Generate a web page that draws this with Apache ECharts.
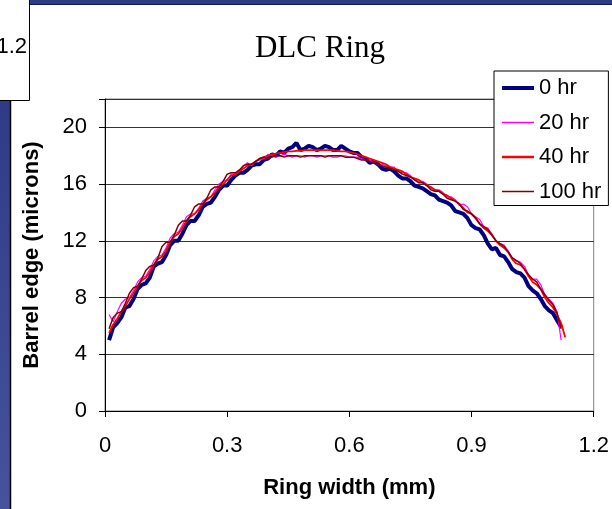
<!DOCTYPE html>
<html><head><meta charset="utf-8">
<script src="https://cdn.jsdelivr.net/npm/echarts@6/dist/echarts.min.js"></script>
<style>html,body{margin:0;padding:0;background:#fff}#c{width:612px;height:509px}</style>
</head><body><div id="c"></div>
<script>
const titleText = 'DLC Ring';
const seriesNames = ['0 hr', '20 hr', '40 hr', '100 hr'];
const xTicks = [0, 0.3, 0.6, 0.9, 1.2];
const yTicks = [0, 4, 8, 12, 16, 20];
const ringWidth = [0.01,0.02,0.03,0.04,0.05,0.06,0.07,0.08,0.09,0.10,0.11,0.12,0.13,0.14,0.15,0.16,0.17,0.18,0.19,0.20,0.21,0.22,0.23,0.24,0.25,0.26,0.27,0.28,0.29,0.30,0.31,0.32,0.33,0.34,0.35,0.36,0.37,0.38,0.39,0.40,0.41,0.42,0.43,0.44,0.45,0.46,0.47,0.48,0.49,0.50,0.51,0.52,0.53,0.54,0.55,0.56,0.57,0.58,0.59,0.60,0.61,0.62,0.63,0.64,0.65,0.66,0.67,0.68,0.69,0.70,0.71,0.72,0.73,0.74,0.75,0.76,0.77,0.78,0.79,0.80,0.81,0.82,0.83,0.84,0.85,0.86,0.87,0.88,0.89,0.90,0.91,0.92,0.93,0.94,0.95,0.96,0.97,0.98,0.99,1.00,1.01,1.02,1.03,1.04,1.05,1.06,1.07,1.08,1.09,1.10,1.11,1.12,1.13];
const hr0 = [5.0,5.9,6.2,6.6,7.3,7.4,7.9,8.6,8.9,9.0,9.4,10.2,10.4,10.5,11.0,11.7,12.0,12.0,12.5,13.1,13.4,13.4,13.8,14.4,14.6,14.7,15.1,15.6,15.9,15.9,16.3,16.6,16.8,16.8,17.0,17.3,17.4,17.4,17.7,17.8,18.1,18.0,18.3,18.2,18.5,18.6,18.9,18.4,18.5,18.7,18.6,18.4,18.5,18.7,18.6,18.4,18.4,18.7,18.5,18.3,18.2,18.2,17.9,17.8,17.5,17.6,17.4,17.1,17.0,17.1,16.9,16.6,16.4,16.4,16.2,15.9,15.8,15.7,15.5,15.3,15.2,14.9,14.8,14.7,14.5,14.1,14.0,13.9,13.6,13.1,12.9,12.8,12.4,11.8,11.4,11.5,11.0,10.9,10.5,10.0,9.8,9.7,9.4,8.8,8.5,8.3,7.9,7.4,7.1,6.9,6.4,5.9,null];
const hr20 = [6.8,6.3,7.0,7.6,7.9,8.0,8.5,9.1,9.4,9.5,10.0,10.6,10.9,11.0,11.5,12.2,12.5,12.6,13.1,13.7,13.9,13.9,14.3,14.8,15.0,15.1,15.6,16.0,16.2,16.3,16.7,16.7,16.9,17.3,17.5,17.3,17.6,17.7,17.8,18.1,18.0,17.9,18.0,18.1,18.0,17.9,18.0,18.0,17.9,18.0,18.0,17.9,18.0,18.0,18.0,17.9,17.9,18.0,18.0,17.9,17.9,17.9,17.8,17.7,17.7,17.5,17.4,17.4,17.3,17.2,17.2,16.9,16.8,16.8,16.6,16.3,16.2,16.2,16.0,15.7,15.6,15.6,15.4,15.1,15.1,14.9,14.5,14.6,14.4,13.9,13.7,13.5,13.0,12.9,12.5,12.0,11.8,11.7,11.3,10.8,10.6,10.5,10.2,9.6,9.3,9.3,8.9,8.2,7.9,7.6,7.0,5.0,null];
const hr40 = [5.5,6.1,6.5,7.0,7.4,7.9,8.3,8.8,9.2,9.4,9.8,10.3,10.7,10.9,11.3,11.9,12.3,12.5,12.9,13.4,13.7,13.9,14.2,14.6,14.9,15.1,15.4,15.8,16.0,16.3,16.6,16.7,16.9,17.1,17.3,17.4,17.6,17.8,17.9,18.0,18.1,18.15,18.2,18.25,18.3,18.3,18.35,18.35,18.4,18.4,18.4,18.4,18.4,18.4,18.4,18.4,18.35,18.3,18.3,18.25,18.2,18.1,18.0,17.9,17.8,17.7,17.6,17.5,17.4,17.2,17.1,17.0,16.9,16.7,16.5,16.4,16.3,16.1,15.9,15.8,15.6,15.5,15.3,15.2,15.0,14.8,14.6,14.3,14.0,13.9,13.6,13.2,12.9,12.7,12.4,12.0,11.7,11.5,11.2,10.7,10.4,10.3,10.0,9.5,9.1,8.9,8.6,8.0,7.6,7.3,6.8,6.2,5.2];
const hr100 = [5.8,6.6,6.9,7.0,7.6,8.3,8.7,8.8,9.3,9.9,10.2,10.3,10.8,11.6,11.9,11.9,12.4,13.1,13.4,13.4,13.8,14.4,14.6,14.6,15.0,15.6,15.8,15.8,16.2,16.7,16.8,16.8,17.0,17.3,17.4,17.4,17.6,17.8,17.9,17.8,17.9,18.0,18.0,17.9,18.0,18.0,18.0,17.9,18.0,18.0,18.0,18.0,18.0,17.9,18.0,18.0,18.0,18.0,17.9,17.9,17.9,17.8,17.7,17.7,17.6,17.5,17.4,17.3,17.2,17.1,17.0,16.9,16.7,16.6,16.5,16.3,16.1,16.1,15.9,15.6,15.5,15.5,15.3,15.0,14.9,14.8,14.6,14.2,14.1,13.9,13.6,13.2,13.0,12.8,12.4,12.0,11.8,11.6,11.2,10.8,10.6,10.4,10.0,9.6,9.3,9.1,8.6,8.2,7.8,7.5,6.9,5.8,null];

const seriesValues = [hr0, hr20, hr40, hr100];
const colors = ['#000080', '#ff00ff', '#ff0000', '#800000'];
const widths = [4, 1.2, 1.8, 1.5];
const legendIcons = [
  'path://M0,0L0.01,0L0,0.01ZM0,5L32,5L32,9L0,9ZM0,14L0.01,14L0,13.99Z',
  'path://M0,0L0.01,0L0,0.01ZM0,6.3L32,6.3L32,7.7L0,7.7ZM0,14L0.01,14L0,13.99Z',
  'path://M0,0L0.01,0L0,0.01ZM0,5.8L32,5.8L32,8.2L0,8.2ZM0,14L0.01,14L0,13.99Z',
  'path://M0,0L0.01,0L0,0.01ZM0,6.3L32,6.3L32,7.7L0,7.7ZM0,14L0.01,14L0,13.99Z'
];

const chart = echarts.init(document.getElementById('c'), null, {renderer: 'canvas'});
const font = 'Liberation Sans, Arial, sans-serif';
chart.setOption({
  animation: false,
  backgroundColor: '#fff',
  title: {
    text: titleText, left: 315, top: 28, textAlign: 'center',
    textStyle: {fontFamily: 'Liberation Serif, Times New Roman, serif', fontSize: 31, fontWeight: 'normal', color: '#000'}
  },
  grid: {left: 105, right: 17, top: 99, bottom: 98, show: true, borderColor: '#808080', borderWidth: 1, backgroundColor: '#fff'},
  legend: {
    orient: 'vertical', left: 494, top: 71,
    padding: [6, 7, 3, 8], itemGap: 12.5, itemWidth: 32, itemHeight: 14,
    backgroundColor: '#fff', borderColor: '#000', borderWidth: 1, borderRadius: 0,
    textStyle: {fontFamily: font, fontSize: 22, color: '#000', lineHeight: 22},
    data: seriesNames.map((n, k) => ({name: n, icon: legendIcons[k], itemStyle: {color: colors[k], borderWidth: 0}}))
  },
  xAxis: {
    type: 'value', min: xTicks[0], max: xTicks[xTicks.length-1], interval: 0.3,
    name: 'Ring width (mm)', nameLocation: 'middle', nameGap: 66,
    nameTextStyle: {fontFamily: font, fontSize: 22, fontWeight: 'bold', color: '#000'},
    axisLine: {show: true, lineStyle: {color: '#000', width: 1}},
    axisTick: {show: true, inside: false, length: 6, lineStyle: {color: '#000'}},
    axisLabel: {fontFamily: font, fontSize: 22, color: '#000', margin: 24,
      formatter: v => xTicks.some(t => Math.abs(t - v) < 1e-6) ? String(+v.toFixed(1)) : ''},
    splitLine: {show: false}
  },
  yAxis: {
    type: 'value', min: 0, max: 22, interval: 4,
    name: 'Barrel edge (microns)', nameLocation: 'middle', nameGap: 62, nameRotate: 90,
    nameTextStyle: {fontFamily: font, fontSize: 22, fontWeight: 'bold', color: '#000'},
    axisLine: {show: true, lineStyle: {color: '#000', width: 1}},
    axisTick: {show: true, inside: false, length: 6, lineStyle: {color: '#000'}},
    axisLabel: {fontFamily: font, fontSize: 22, color: '#000', margin: 18,
      formatter: v => yTicks.indexOf(v) >= 0 ? String(v) : ''},
    splitLine: {show: true, lineStyle: {color: '#333', width: 1}}
  },
  series: seriesNames.map((n, k) => ({
    name: n, type: 'line', symbol: 'none', z: 2 + k, connectNulls: false,
    color: colors[k],
    lineStyle: {color: colors[k], width: widths[k]},
    data: ringWidth.map((x, i) => [x, seriesValues[k][i] == null ? '-' : seriesValues[k][i]])
  })),
  graphic: [
    {type: 'rect', shape: {x: 0, y: 100, width: 10, height: 409}, style: {fill: new echarts.graphic.LinearGradient(0,0,0,1,[{offset:0,color:'#2f3b85'},{offset:1,color:'#45539f'}])}, silent: true},
    {type: 'rect', shape: {x: 30, y: 0, width: 582, height: 4}, style: {fill: '#2f3b85'}, silent: true},
    {type: 'line', shape: {x1: 30, y1: 4.5, x2: 612, y2: 4.5}, style: {stroke: '#1a1a40', lineWidth: 1}, silent: true},
    {type: 'line', shape: {x1: 10.5, y1: 100, x2: 10.5, y2: 509}, style: {stroke: '#000', lineWidth: 1.5}, silent: true},
    {type: 'rect', shape: {x: -1, y: -1, width: 30.5, height: 101.5}, style: {fill: '#fff', stroke: '#000', lineWidth: 1}, silent: true},
    {type: 'text', style: {text: '1.2', x: 27, y: 47, align: 'right', verticalAlign: 'middle', font: '22px Liberation Sans, Arial', fill: '#000'}, silent: true}
  ]
});
</script></body></html>
